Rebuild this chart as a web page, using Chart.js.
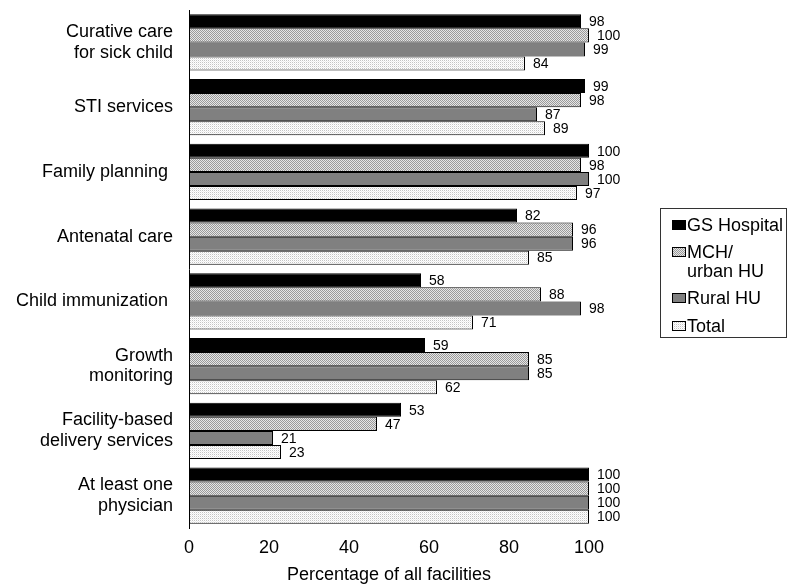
<!DOCTYPE html>
<html>
<head>
<meta charset="utf-8">
<script src="https://cdn.jsdelivr.net/npm/chart.js@4"></script>
<style>
  html, body { margin: 0; padding: 0; background: #fff; }
  #wrap { width: 789px; height: 584px; position: relative; }
</style>
</head>
<body>
<div id="wrap"><canvas id="c" width="789" height="584"></canvas></div>
<script>
// ---- data ----
const categories = [
  ['Curative care', 'for sick child'],
  'STI services',
  'Family planning ',
  'Antenatal care',
  'Child immunization ',
  ['Growth', 'monitoring'],
  ['Facility-based', 'delivery services'],
  ['At least one', 'physician']
];
const seriesNames = ['GS Hospital', ['MCH/', 'urban HU'], 'Rural HU', 'Total'];
const gsHospital = [98, 99, 100, 82, 58, 59, 53, 100];
const mchUrban   = [100, 98, 98, 96, 88, 85, 47, 100];
const ruralHU    = [99, 87, 100, 96, 98, 85, 21, 100];
const total      = [84, 89, 97, 85, 71, 62, 23, 100];
const xTicks = [0, 20, 40, 60, 80, 100];
const xTitle = 'Percentage of all facilities';

// ---- patterns ----
function makePattern(w, h, fn) {
  const c = document.createElement('canvas');
  c.width = w; c.height = h;
  const x = c.getContext('2d');
  fn(x);
  return x.createPattern(c, 'repeat');
}
const mchPattern = makePattern(2, 2, (x) => {
  x.fillStyle = '#e6e6e6'; x.fillRect(0, 0, 2, 2);
  x.fillStyle = '#9a9a9a'; x.fillRect(0, 0, 1, 1); x.fillRect(1, 1, 1, 1);
});
const totalPattern = makePattern(2, 2, (x) => {
  x.fillStyle = '#ffffff'; x.fillRect(0, 0, 2, 2);
  x.fillStyle = '#c4c4c4'; x.fillRect(0, 0, 1, 1);
  x.fillStyle = '#ececec'; x.fillRect(1, 1, 1, 1);
});
const fills = ['#000000', mchPattern, '#808080', totalPattern];
const seriesData = [gsHospital, mchUrban, ruralHU, total];

const FONT = "'Liberation Sans', Arial, sans-serif";

const valueLabels = {
  id: 'valueLabels',
  afterDatasetsDraw(chart) {
    const ctx = chart.ctx;
    ctx.save();
    ctx.font = '14px ' + FONT;
    ctx.fillStyle = '#000';
    ctx.textAlign = 'left';
    ctx.textBaseline = 'middle';
    chart.data.datasets.forEach((ds, i) => {
      const meta = chart.getDatasetMeta(i);
      meta.data.forEach((el, j) => {
        ctx.fillText(String(ds.data[j]), el.x + 8, el.y + 1);
      });
    });
    ctx.restore();
  }
};

const boxLegend = {
  id: 'boxLegend',
  afterDraw(chart) {
    const ctx = chart.ctx;
    ctx.save();
    ctx.strokeStyle = '#333';
    ctx.lineWidth = 1;
    ctx.strokeRect(660.5, 208.5, 126, 129);
    ctx.font = '18px ' + FONT;
    ctx.textBaseline = 'middle';
    ctx.textAlign = 'left';
    const itemY = [225, 252, 298, 326];
    const lineGap = 19;
    chart.data.datasets.forEach((ds, i) => {
      const y = itemY[i];
      ctx.fillStyle = ds.backgroundColor;
      ctx.fillRect(672, y - 5, 14, 10);
      ctx.strokeStyle = '#000';
      ctx.strokeRect(672.5, y - 4.5, 13, 9);
      ctx.fillStyle = '#000';
      const lines = Array.isArray(ds.label) ? ds.label : [ds.label];
      lines.forEach((t, k) => ctx.fillText(t, 687, y + k * lineGap + 1));
    });
    ctx.restore();
  }
};

new Chart(document.getElementById('c'), {
  type: 'bar',
  data: {
    labels: categories,
    datasets: seriesNames.map((n, i) => ({
      label: n,
      data: seriesData[i],
      backgroundColor: fills[i],
      borderColor: '#000',
      borderWidth: 1,
      borderSkipped: false,
      categoryPercentage: 0.865,
      barPercentage: 1.0
    }))
  },
  options: {
    indexAxis: 'y',
    responsive: false,
    animation: false,
    devicePixelRatio: 1,
    layout: { padding: { top: 10, right: 200, bottom: 0, left: 0 } },
    plugins: {
      legend: { display: false },
      tooltip: { enabled: false },
      title: { display: false }
    },
    scales: {
      x: {
        min: 0, max: 100,
        afterBuildTicks(scale) { scale.ticks = xTicks.map(v => ({ value: v })); },
        afterFit(scale) { scale.height = 56; scale.paddingLeft = 0; scale.paddingRight = 0; },
        grid: { display: false, drawTicks: false },
        border: { display: false },
        ticks: {
          color: '#000',
          padding: 9,
          maxRotation: 0,
          font: { family: FONT, size: 18 }
        },
        title: {
          display: true,
          text: xTitle,
          color: '#000',
          padding: { top: 0, bottom: 0 },
          font: { family: FONT, size: 18, lineHeight: 1.0 }
        }
      },
      y: {
        afterFit(scale) { scale.width = 189; scale.paddingTop = 0; scale.paddingBottom = 0; },
        grid: { display: true, drawOnChartArea: false, drawTicks: false },
        border: { display: true, color: '#000', width: 1 },
        ticks: {
          color: '#000',
          padding: 16,
          font: { family: FONT, size: 18, lineHeight: 1.15 }
        }
      }
    }
  },
  plugins: [valueLabels, boxLegend]
});
</script>
</body>
</html>
